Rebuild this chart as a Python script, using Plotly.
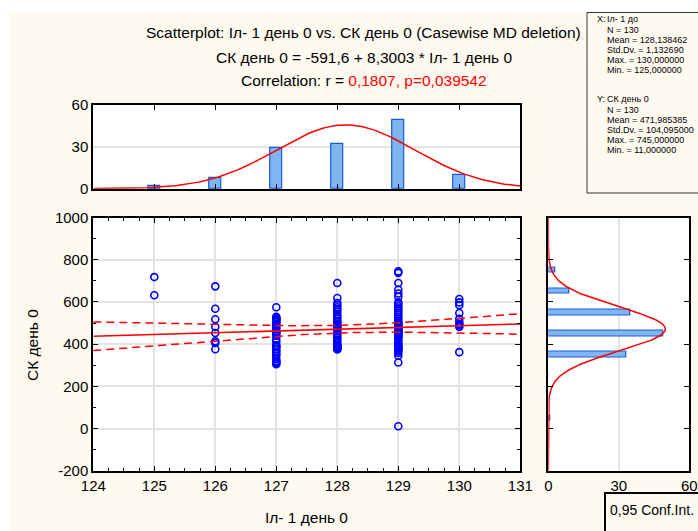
import math
import numpy as np
import plotly.graph_objects as go

W, H = 698, 531

# ---------------- data ----------------
x_levels = [125, 126, 127, 128, 129, 130]
y125 = [718, 632]
y126 = [674, 568, 518, 482, 453, 414, 406, 376]
y127 = [575, 530, 525, 520, 515, 510, 505, 495, 490, 480, 470, 460, 455, 450, 440,
        425, 410, 395, 390, 385, 375, 365, 355, 345, 330, 320, 315, 310, 305]
y128 = [690, 619, 595, 585, 575, 565, 555, 540, 530, 520, 510, 505, 495, 490, 485, 480,
        475, 470, 460, 450, 440, 430, 420, 410, 398, 395, 392, 388, 385, 380, 378, 375]
y129 = [745, 738, 690, 658, 640, 625, 598, 590, 580, 570, 560, 550, 540, 530, 520, 510,
        502, 498, 494, 490, 486, 482, 478, 474, 470, 466, 462, 458, 454, 450, 445, 440,
        435, 430, 420, 410, 402, 396, 392, 388, 384, 380, 376, 372, 365, 358, 345, 313, 11]
y130 = [614, 598, 585, 548, 520, 505, 495, 490, 482, 362]
y_groups = [y125, y126, y127, y128, y129, y130]

# top histogram (counts per x level)
hx_centers = [125, 126, 127, 128, 129, 130]
hx_counts = [2, 8, 29, 32, 49, 10]

# right histogram (counts per y bin, bins width 100)
hy_centers = [750, 650, 550, 450, 350, 250, 150, 50, -50]
hy_counts = [3, 9, 35, 49, 33, 0, 0, 1, 0]

# summary statistics (as printed on the chart)
n = 130
x_mean, x_sd = 128.138462, 1.132690
y_mean, y_sd = 471.985385, 104.095000
intercept, slope = -591.6, 8.3003
r_val = 0.1807
x_tick_vals = [124, 125, 126, 127, 128, 129, 130, 131]
y_tick_vals = [-200, 0, 200, 400, 600, 800, 1000]
y_tick_text = ["-200", "0", "200", "400", "600", "800", "1000"]

# ---------------- helpers ----------------
def fx(p):
    return p / W

def fy(p):
    return 1 - p / H

CREAM = "#fffaf0"
RED = "#ff0000"
BLUE = "#0000ff"
FONT = "Liberation Sans, Arial, sans-serif"

fig = go.Figure()

# scatter points
xs, ys = [], []
for xv, grp in zip(x_levels, y_groups):
    xs += [xv] * len(grp)
    ys += grp
fig.add_trace(go.Scatter(x=xs, y=ys, mode="markers", xaxis="x", yaxis="y",
                         marker=dict(symbol="circle-open", size=7, color=BLUE,
                                     line=dict(width=1.6, color=BLUE)),
                         showlegend=False, hoverinfo="skip"))

# regression line + 95% confidence band
xg = np.linspace(124, 131, 141)
yhat = intercept + slope * xg
s_res = y_sd * math.sqrt((1 - r_val ** 2) * (n - 1) / (n - 2))
sxx = (n - 1) * x_sd ** 2
tval = 1.9787
half = tval * s_res * np.sqrt(1 / n + (xg - x_mean) ** 2 / sxx)
fig.add_trace(go.Scatter(x=xg, y=yhat, mode="lines", xaxis="x", yaxis="y",
                         line=dict(color=RED, width=1.6), showlegend=False, hoverinfo="skip"))
for band in (yhat + half, yhat - half):
    fig.add_trace(go.Scatter(x=xg, y=band, mode="lines", xaxis="x", yaxis="y",
                             line=dict(color=RED, width=1.5, dash="8px,5px"),
                             showlegend=False, hoverinfo="skip"))

# top histogram
fig.add_trace(go.Bar(x=hx_centers, y=hx_counts, width=0.2, xaxis="x2", yaxis="y2",
                     marker=dict(color="#7fb6f2", line=dict(color="#1a5ad8", width=1.2)),
                     showlegend=False, hoverinfo="skip"))
xn = np.linspace(124, 131, 200)
top_curve = n * 1.0 * np.exp(-0.5 * ((xn - x_mean) / x_sd) ** 2) / (x_sd * math.sqrt(2 * math.pi))
fig.add_trace(go.Scatter(x=xn, y=top_curve, mode="lines", xaxis="x2", yaxis="y2",
                         line=dict(color=RED, width=1.5), showlegend=False, hoverinfo="skip"))

# right histogram
fig.add_trace(go.Bar(y=hy_centers, x=hy_counts, width=25, orientation="h", xaxis="x3", yaxis="y3",
                     marker=dict(color="#7fb6f2", line=dict(color="#1a5ad8", width=1.2)),
                     showlegend=False, hoverinfo="skip"))
yn = np.linspace(-200, 1000, 300)
right_curve = n * 100 * np.exp(-0.5 * ((yn - y_mean) / y_sd) ** 2) / (y_sd * math.sqrt(2 * math.pi))
fig.add_trace(go.Scatter(x=right_curve, y=yn, mode="lines", xaxis="x3", yaxis="y3",
                         line=dict(color=RED, width=1.5), showlegend=False, hoverinfo="skip"))

axis_common = dict(showline=True, linecolor="black", linewidth=2, mirror="allticks",
                   ticks="inside", tickcolor="black", ticklen=5, tickwidth=1,
                   tickfont=dict(family=FONT, size=15, color="black"),
                   gridcolor="#e3e3e3", gridwidth=1.5, zeroline=False, automargin=False)

main_x_dom = [fx(93.3), fx(520.3)]
main_y_dom = [fy(470.7), fy(217.6)]

fig.update_layout(
    width=W, height=H,
    margin=dict(l=0, r=0, t=0, b=0, autoexpand=False),
    paper_bgcolor=CREAM, plot_bgcolor="white",
    bargap=0,
    xaxis=dict(axis_common, domain=main_x_dom, range=[124, 131], anchor="y",
               tickmode="array", tickvals=x_tick_vals, showgrid=True,
               minor=dict(dtick=0.25, tick0=124, ticks="inside", ticklen=3, tickcolor="black", showgrid=False)),
    yaxis=dict(axis_common, domain=main_y_dom, range=[-200, 1000], anchor="x",
               tickmode="array", tickvals=y_tick_vals, ticktext=y_tick_text, showgrid=True,
               minor=dict(dtick=100, tick0=0, ticks="inside", ticklen=3, tickcolor="black", showgrid=False)),
    xaxis2=dict(axis_common, domain=main_x_dom, range=[124, 131], anchor="y2",
                dtick=1, tick0=124, showticklabels=False, showgrid=False),
    yaxis2=dict(axis_common, domain=[fy(188.7), fy(105)], range=[0, 60], anchor="x2",
                tickmode="array", tickvals=[0, 30, 60], showgrid=True, ticks=""),
    xaxis3=dict(axis_common, domain=[fx(548.3), fx(689.3)], range=[0, 60], anchor="y3",
                tickmode="array", tickvals=[0, 30, 60], showgrid=True, ticks=""),
    yaxis3=dict(axis_common, domain=main_y_dom, range=[-200, 1000], anchor="x3",
                tickmode="array", tickvals=y_tick_vals, showticklabels=False, showgrid=False),
)

# white strips at top and left edges, stats box, legend box
shapes = [
    dict(type="rect", xref="paper", yref="paper", x0=0, x1=1, y0=fy(12), y1=1.02,
         fillcolor="white", line=dict(width=0), layer="below"),
    dict(type="rect", xref="paper", yref="paper", x0=-0.02, x1=fx(9), y0=-0.02, y1=1.02,
         fillcolor="white", line=dict(width=0), layer="below"),
    dict(type="rect", xref="paper", yref="paper", x0=fx(587), x1=fx(720), y0=fy(193), y1=fy(12.5),
         fillcolor="rgba(0,0,0,0)", line=dict(width=1, color="#333333")),
    dict(type="rect", xref="paper", yref="paper", x0=fx(605), x1=fx(730), y0=fy(560), y1=fy(493),
         fillcolor="rgba(0,0,0,0)", line=dict(width=2, color="black")),
]
fig.update_layout(shapes=shapes)

annotations = []
def add_text(text, xp, yp, size, anchor="center", color="black", angle=0):
    annotations.append(dict(text=text, xref="paper", yref="paper", x=fx(xp), y=fy(yp),
                            xanchor=anchor, yanchor="middle", showarrow=False, textangle=angle,
                            borderpad=0,
                            font=dict(family=FONT, size=size, color=color)))

title_lines = [
    "Scatterplot: Iл- 1 день 0 vs. СК день 0 (Casewise MD deletion)",
    "СК день 0 = -591,6 + 8,3003 * Iл- 1 день 0",
    "Correlation: r = <span style='color:#ff0000'>0,1807, p=0,039542</span>",
]
for line, yp in zip(title_lines, [33, 57, 80]):
    add_text(line, 364, yp, 15.5)

add_text("Iл- 1 день 0", 306, 517, 15.5)
add_text("СК день 0", 32, 345, 15.5, angle=-90)

stats_x = [
    "N = 130", "Mean = 128,138462", "Std.Dv. = 1,132690",
    "Max. = 130,000000", "Min. = 125,000000",
]
stats_y = [
    "N = 130", "Mean = 471,985385", "Std.Dv. = 104,095000",
    "Max. = 745,000000", "Min. = 11,000000",
]
SF = 9
add_text("X:", 596, 19, SF, anchor="left")
add_text("Iл- 1 до", 606, 19, SF, anchor="left")
for i, t in enumerate(stats_x):
    add_text(t, 606, 29.5 + i * 10.2, SF, anchor="left")
add_text("Y:", 596, 99, SF, anchor="left")
add_text("СК день 0", 606, 99, SF, anchor="left")
for i, t in enumerate(stats_y):
    add_text(t, 606, 109.5 + i * 10.2, SF, anchor="left")

add_text("0,95 Conf.Int.", 609, 510, 14, anchor="left")

fig.update_layout(annotations=annotations)

fig.write_html("out.html")
